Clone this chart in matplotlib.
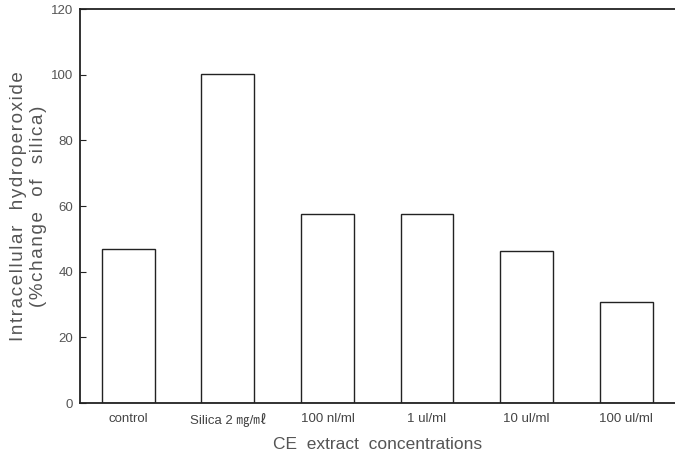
import numpy as np
import matplotlib.pyplot as plt

plt.rcParams['font.family'] = ['Liberation Sans', 'DejaVu Sans', 'Noto Sans CJK KR']

# Data
categories = ['control', 'Silica 2 ㎎/㎖', '100 nl/ml', '1 ul/ml', '10 ul/ml', '100 ul/ml']
values = [46.9, 100.2, 57.6, 57.6, 46.3, 30.8]
ylabel_lines = ['Intracellular  hydroperoxide', '(%change  of  silica)']


def spaced(s):
    # reference text has loose letter spacing
    return '\u200a'.join(s)


fig = plt.figure(figsize=(6.75, 4.54), dpi=100)
ax = fig.add_axes([0.1185, 0.112, 0.8815, 0.868])

x = np.arange(len(categories))
ax.bar(x, values, width=0.53, facecolor='white', edgecolor='#222222', linewidth=1.0)

ax.set_xlim(-0.485, 5.49)
ax.set_ylim(0, 120)
ax.set_yticks(np.arange(0, 121, 20))
ax.tick_params(axis='y', direction='in', length=4, labelsize=9.5, labelcolor='#555555', color='#222222', pad=5)
ax.set_xticks(x)
ax.set_xticklabels(categories)
ax.tick_params(axis='x', length=0, labelsize=9.5, labelcolor='#444444', pad=7)

for s in ['left', 'top', 'bottom']:
    ax.spines[s].set_linewidth(1.3)
    ax.spines[s].set_color('#222222')
ax.spines['right'].set_visible(False)

ax.set_xlabel('CE  extract  concentrations', fontsize=12.5, color='#555555', labelpad=7)
ax.set_ylabel('\n'.join(spaced(l) for l in ylabel_lines),
              fontsize=13.5, color='#555555', labelpad=3, linespacing=1.2)

fig.savefig('out.png', dpi=100)
